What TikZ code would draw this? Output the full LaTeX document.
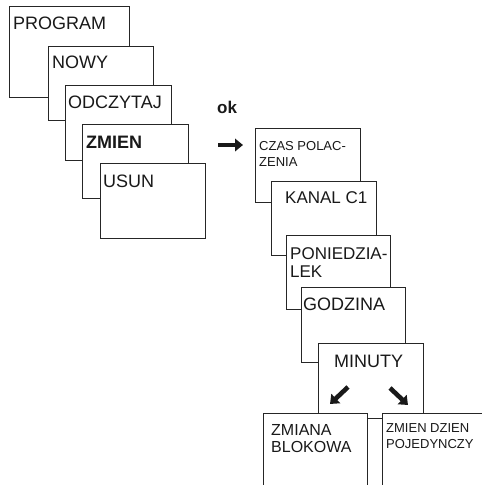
\documentclass[tikz,border=0pt]{standalone}
\usepackage{fontspec}
\setmainfont{Liberation Sans}
\usetikzlibrary{arrows.meta}

\tikzset{
  screen/.style={draw=black!85, fill=white, line width=0.9pt, anchor=north west,
    inner sep=0pt, minimum width=#1},
  screen/.default=105pt,
  bigtxt/.style={anchor=base west, inner sep=0pt, font=\fontsize{18}{20}\selectfont, text=black!90},
  midtxt/.style={anchor=base west, inner sep=0pt, align=left, font=\fontsize{16}{17}\selectfont, text=black!90},
  smalltxt/.style={anchor=base west, inner sep=0pt, align=left, font=\fontsize{13}{16}\selectfont, text=black!90},
  fatarrow/.style={line width=4.6pt, black!90, -{Triangle[length=8pt,width=12.5pt]}}
}

\begin{document}
\begin{tikzpicture}[x=1pt, y=-1pt]
  \clip (0,0) rectangle (482,485);

  % menu on the left
  \node[screen=120pt, minimum height=91pt] (program) at (9,6) {};
  \node[bigtxt] (tprogram) at (13,29) {PROGRAM};
  \node[screen, minimum height=74pt] (nowy) at (48,46) {};
  \node[bigtxt] (tnowy) at (52,68) {NOWY};
  \node[screen=106pt, minimum height=75pt] (odczytaj) at (65,85) {};
  \node[bigtxt] (todczytaj) at (68,108) {ODCZYTAJ};
  \node[screen=106pt, minimum height=74pt] (zmien) at (82,124) {};
  \node[bigtxt, font=\fontsize{18}{20}\selectfont\bfseries] (tzmien) at (86,148) {ZMIEN};
  \node[screen, minimum height=75pt] (usun) at (100,163) {};
  \node[bigtxt] (tusun) at (103,187) {USUN};

  % ok
  \node[bigtxt, font=\fontsize{17}{20}\selectfont\bfseries] (ok) at (217,113) {ok};
  \coordinate (okfrom) at (218,145);
  \coordinate (okto) at (243,145);
  \draw[fatarrow] (okfrom) -- (okto);

  % submenu of ZMIEN (multi-line texts sit on their last line)
  \node[screen, minimum height=74pt] (czas) at (255,128) {};
  \node[smalltxt] (tczas) at (259,166) {CZAS POLAC-\\ZENIA};
  \node[screen, minimum height=74pt] (kanal) at (271,181) {};
  \node[bigtxt, font=\fontsize{17}{20}\selectfont] (tkanal) at (285,203) {KANAL C1};
  \node[screen=104pt, minimum height=74pt] (dzien) at (286,235) {};
  \node[bigtxt, align=left, font=\fontsize{17}{18}\selectfont] (tdzien) at (290,277) {PONIEDZIA-\\LEK};
  \node[screen=104pt, minimum height=75pt] (godzina) at (301,287) {};
  \node[bigtxt] (tgodzina) at (303,310) {GODZINA};
  \node[screen, minimum height=75pt] (minuty) at (318,343) {};
  \node[bigtxt] (tminuty) at (334,367) {MINUTY};
  \coordinate (lfrom) at (348,387);
  \coordinate (lto) at (330,404);
  \coordinate (rfrom) at (390,388);
  \coordinate (rto) at (408,405);
  \draw[fatarrow] (lfrom) -- (lto);
  \draw[fatarrow] (rfrom) -- (rto);

  % two choices, cut off at the bottom
  \node[screen=104pt, minimum height=100pt] (blok) at (263,413) {};
  \node[midtxt] (tblok) at (271,452) {ZMIANA\\BLOKOWA};
  \node[screen=110pt, minimum height=100pt] (pojed) at (382,413) {};
  \node[smalltxt] (tpojed) at (386,448) {ZMIEN DZIEN\\POJEDYNCZY};
\end{tikzpicture}
\end{document}
